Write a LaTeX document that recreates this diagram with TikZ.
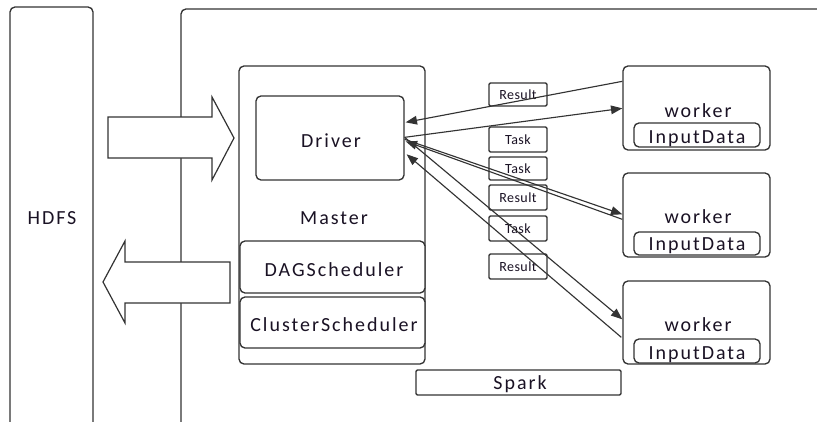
\documentclass[tikz,border=0pt]{standalone}
\usepackage{fontspec}
\setmainfont{Carlito}[LetterSpace=10]
\newfontfamily\smallf{Carlito}[LetterSpace=3]
\usetikzlibrary{arrows.meta,fit,calc}
\definecolor{ln}{HTML}{333333}
\definecolor{tx}{HTML}{1A1224}
\begin{document}
\begin{tikzpicture}[x=0.75pt,y=-0.75pt,
  box/.style={draw=ln,line width=1pt,rounded corners=3.75pt,inner sep=0pt,fill=white},
  labbox/.style={draw=ln,line width=1pt,rounded corners=1pt,inner sep=0pt},
  txt/.style={text=tx,inner sep=0pt,font=\fontsize{15}{18}\selectfont},
  smalltxt/.style={text=tx,inner sep=0pt,font=\smallf\fontsize{10.5}{12}\selectfont},
  blockarrow/.style={draw=ln,line width=0.9pt,fill=white,line join=miter},
  arr/.style={draw=ln,line width=0.85pt,-{Triangle[length=8.5pt,width=6.5pt]}}]
\useasboundingbox (0,0) rectangle (817,421);
\clip (0,0) rectangle (817,421);
% outer frames
\node[box,fit={(10,7)(93,440)}] (hdfs) {};
\node[txt,anchor=base] (hdfst) at (52,224) {HDFS};
\node[box,fit={(181,9)(900,440)}] (sparkframe) {};
% block arrows
\draw[blockarrow] (108,117) -- (212,117) -- (212,97) -- (234,138) -- (212,180) -- (212,158) -- (108,158) -- cycle;
\draw[blockarrow] (230,262) -- (125,262) -- (125,241) -- (103,282) -- (125,323) -- (125,303) -- (230,303) -- cycle;
% master
\node[box,fit={(239,66)(425,364)}] (master) {};
\node[box,fit={(256,96)(404,180)}] (driver) {};
\node[txt,anchor=base] (drivert) at (331,147) {Driver};
\node[txt,anchor=base] (mastert) at (334,224) {Master};
\node[box,fit={(240,241)(425,293)}] (dag) {};
\node[txt,anchor=base] (dagt) at (334,276) {DAGScheduler};
\node[box,fit={(240,297)(425,348)}] (cluster) {};
\node[txt,anchor=base] (clustert) at (334,331) {ClusterScheduler};
% spark label
\node[labbox,fit={(416,370)(621,395)}] (spark) {};
\node[txt,anchor=base] (sparkt) at (520,389) {Spark};
% workers
\node[box,fit={(623,66)(770,150)}] (w1) {};
\node[txt,anchor=base] (w1t) at (698,117) {worker};
\node[box,fit={(634,123)(760,147)}] (in1) {};
\node[txt,anchor=base] (in1t) at (697,143) {InputData};
\node[box,fit={(623,173)(770,257)}] (w2) {};
\node[txt,anchor=base] (w2t) at (698,223) {worker};
\node[box,fit={(634,232)(760,255)}] (in2) {};
\node[txt,anchor=base] (in2t) at (697,250) {InputData};
\node[box,fit={(623,281)(770,364)}] (w3) {};
\node[txt,anchor=base] (w3t) at (698,331) {worker};
\node[box,fit={(634,339)(760,363)}] (in3) {};
\node[txt,anchor=base] (in3t) at (697,359) {InputData};
% message labels
\node[labbox,fit={(489,83)(547,106)}] (r1) {};
\node[smalltxt] (r1t) at (r1.center) {Result};
\node[labbox,fit={(489,127)(547,152)}] (t1) {};
\node[smalltxt] (t1t) at (t1.center) {Task};
\node[labbox,fit={(489,157)(547,180)}] (t2) {};
\node[smalltxt] (t2t) at (t2.center) {Task};
\node[labbox,fit={(489,185)(547,210)}] (r2) {};
\node[smalltxt] (r2t) at (r2.center) {Result};
\node[labbox,fit={(489,216)(547,241)}] (t3) {};
\node[smalltxt] (t3t) at (t3.center) {Task};
\node[labbox,fit={(489,254)(547,279)}] (r3) {};
\node[smalltxt] (r3t) at (r3.center) {Result};
% connectors
\draw[arr] ($(w1.north west)+(0,16)$) -- ($(driver.north east)+(1,27)$);
\draw[arr] ($(driver.north east)+(0,42)$) -- ($(w1.north west)+(0,43)$);
\draw[arr] ($(driver.north east)+(0,44)$) -- ($(w2.north west)+(0,42)$);
\draw[arr] ($(w2.north west)+(0,47)$) -- ($(driver.north east)+(1,46)$);
\draw[arr] ($(driver.north east)+(0,42)$) -- ($(w3.north west)+(0,39)$);
\draw[arr] ($(w3.north west)+(-1,57)$) -- ($(driver.north east)+(2,59)$);
\end{tikzpicture}
\end{document}
